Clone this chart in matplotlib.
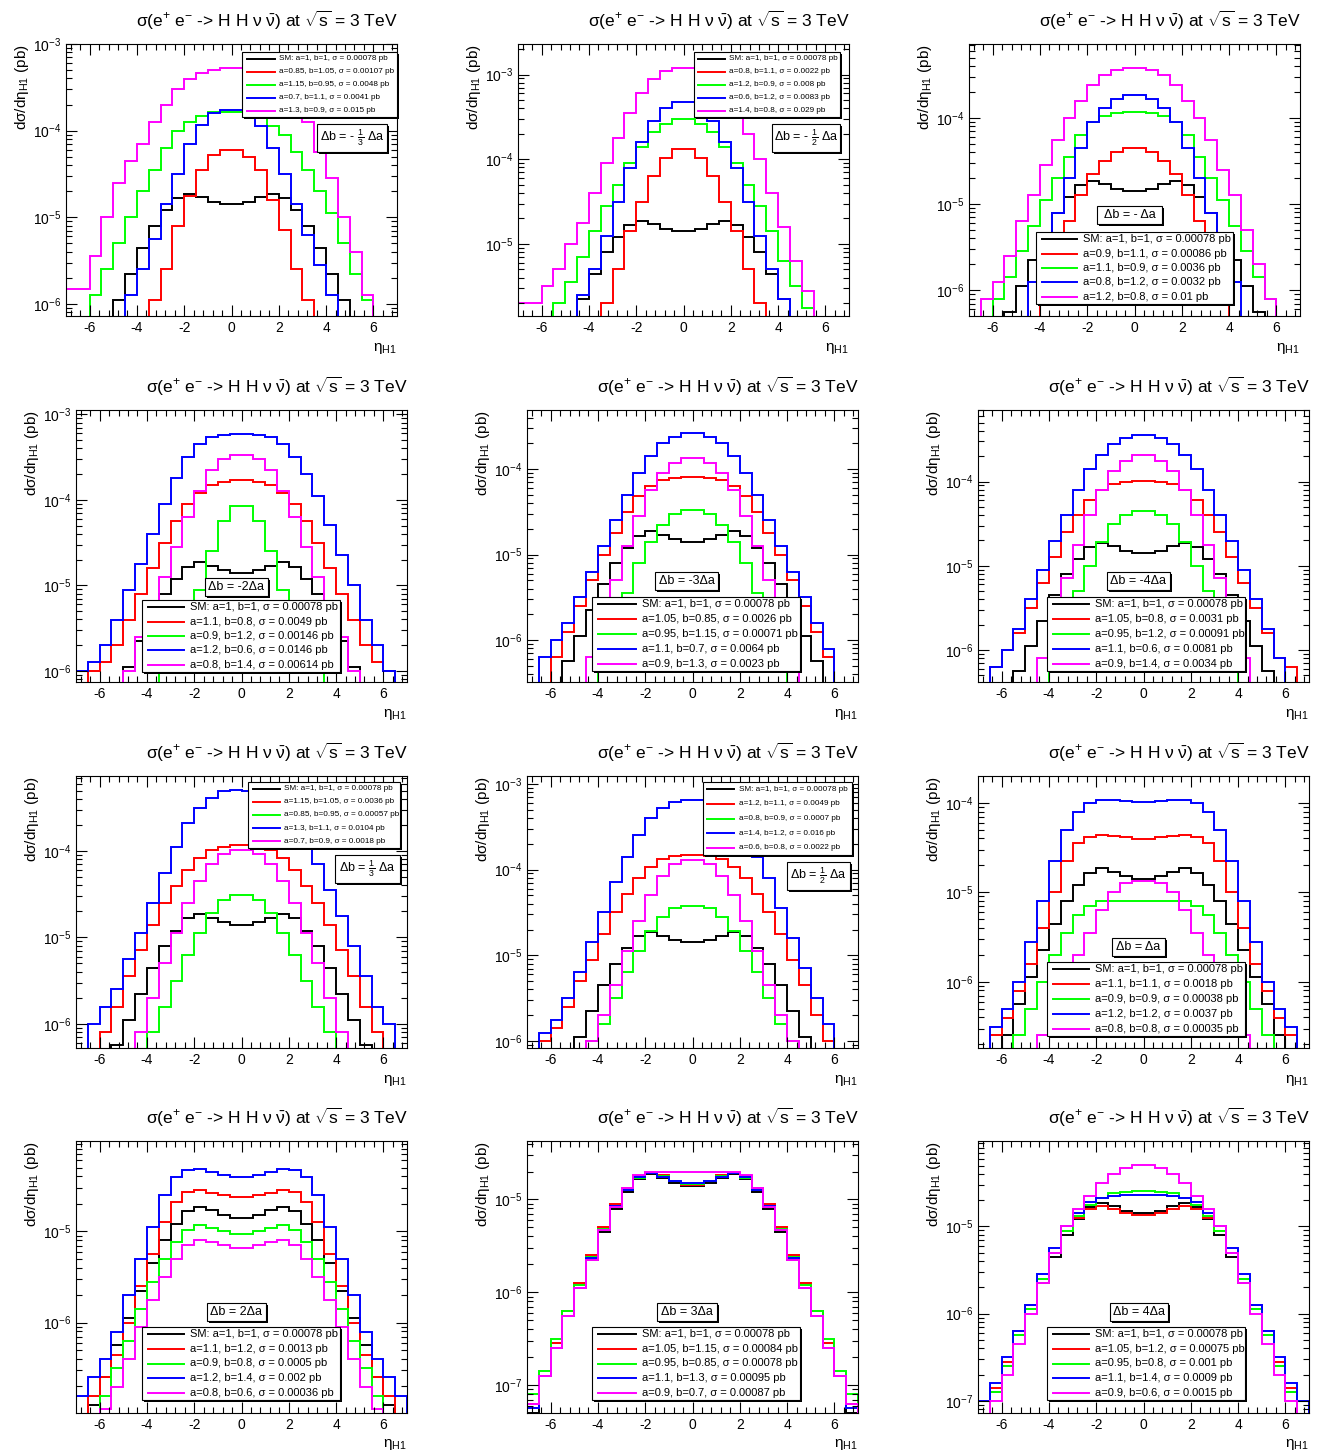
import numpy as np
import matplotlib
matplotlib.use("Agg")
import matplotlib.pyplot as plt
from matplotlib.patches import Rectangle
from matplotlib.lines import Line2D
from matplotlib.ticker import LogLocator, MultipleLocator, NullFormatter

W, H = 1317, 1454
N = None

plt.rcParams['font.family'] = ['Liberation Sans', 'DejaVu Sans']
plt.rcParams['mathtext.fontset'] = 'custom'
plt.rcParams['mathtext.rm'] = 'Liberation Sans'
plt.rcParams['mathtext.it'] = 'Liberation Sans:italic'
plt.rcParams['mathtext.bf'] = 'Liberation Sans:bold'
plt.rcParams['axes.unicode_minus'] = False

# ---- data: log10(dsigma/deta) in 28 bins of 0.5 from -7 to 7 (None = empty bin) ----
eta_edges = np.linspace(-7, 7, 29)

sm = [-7.3, -6.9, -6.6, -6.25, -5.95, -5.65, -5.35, -5.1, -4.92, -4.78, -4.73, -4.77, -4.82, -4.85,
      -4.85, -4.82, -4.77, -4.73, -4.78, -4.92, -5.1, -5.35, -5.65, -5.95, -6.25, -6.6, -6.9, -7.3]

p1_red = [N] * 7 + [-5.95, -5.6, -5.1, -4.75, -4.45, -4.28, -4.22,
                    -4.22, -4.3, -4.45, -4.8, -5.15, -5.6, -5.95] + [N] * 7
p1_green = [N, N, -5.9, -5.6, -5.3, -5.0, -4.7, -4.45, -4.2, -4.0, -3.9, -3.83, -3.79, -3.78,
            -3.78, -3.8, -3.85, -3.95, -4.05, -4.25, -4.45, -4.7, -4.95, -5.3, -5.65, -5.95, N, N]
p1_blue = [N] * 5 + [-5.9, -5.6, -5.25, -4.85, -4.5, -4.15, -3.93, -3.8, -3.76,
                     -3.76, -3.8, -3.95, -4.2, -4.5, -4.85, -5.2, -5.55, -5.9] + [N] * 5
p1_mag = [-5.83, -5.83, -5.45, -5.0, -4.6, -4.35, -4.15, -3.9, -3.7, -3.52, -3.4, -3.34, -3.3, -3.28,
          -3.28, -3.3, -3.33, -3.4, -3.5, -3.7, -3.9, -4.25, -4.55, -5.0, -5.4, -5.9, N, N]

p2_red = [N] * 7 + [-5.7, -5.3, -4.85, -4.5, -4.2, -3.98, -3.88,
                    -3.88, -3.98, -4.2, -4.5, -4.85, -5.3, -5.7] + [N] * 7
p2_green = [N, N, N, -5.7, -5.45, -5.15, -4.85, -4.55, -4.3, -4.05, -3.85, -3.68, -3.58, -3.53,
            -3.53, -3.58, -3.68, -3.85, -4.05, -4.3, -4.55, -4.85, -5.2, -5.5, -5.75, N, N, N]
p2_blue = [N] * 5 + [-5.6, -5.3, -4.9, -4.5, -4.1, -3.8, -3.55, -3.4, -3.32,
                     -3.32, -3.4, -3.55, -3.8, -4.1, -4.5, -4.9, -5.3, -5.65] + [N] * 5
p2_mag = [-5.7, -5.7, -5.5, -5.3, -5.0, -4.75, -4.4, -4.05, -3.75, -3.45, -3.22, -3.05, -2.96, -2.92,
          -2.92, -2.96, -3.05, -3.2, -3.4, -3.7, -4.0, -4.4, -4.8, -5.2, -5.55, N, N, N]

p3_red = [N] * 6 + [-6.0, -5.6, -5.2, -4.9, -4.65, -4.5, -4.4, -4.35,
                    -4.35, -4.4, -4.5, -4.65, -4.9, -5.2, -5.6, -6.0] + [N] * 6
p3_green = [N, N, -6.1, -5.85, -5.55, -5.25, -4.95, -4.7, -4.45, -4.2, -4.05, -3.98, -3.94, -3.93,
            -3.93, -3.94, -3.98, -4.05, -4.2, -4.45, -4.7, -4.95, -5.25, -5.55, -5.85, -6.1, N, N]
p3_blue = [N] * 5 + [-5.9, -5.5, -5.1, -4.7, -4.35, -4.05, -3.88, -3.78, -3.73,
                     -3.73, -3.78, -3.88, -4.05, -4.35, -4.7, -5.1, -5.5, -5.9] + [N] * 5
p3_mag = [N, -6.1, -5.9, -5.6, -5.2, -4.9, -4.55, -4.25, -4.0, -3.8, -3.62, -3.5, -3.44, -3.42,
          -3.42, -3.44, -3.5, -3.62, -3.8, -4.0, -4.25, -4.6, -4.9, -5.3, -5.7, -6.1, N, N]

p4_red = [N, -6.0, -5.9, -5.7, -5.4, -5.1, -4.8, -4.5, -4.25, -4.05, -3.92, -3.83, -3.79, -3.77,
          -3.77, -3.79, -3.83, -3.92, -4.05, -4.25, -4.5, -4.8, -5.1, -5.4, -5.7, -5.9, -6.0, N]
p4_green = [N] * 7 + [-6.0, -5.8, -5.4, -5.05, -4.6, -4.25, -4.07,
                      -4.07, -4.25, -4.6, -5.05, -5.4, -5.8, -6.0] + [N] * 7
p4_blue = [-6.0, -5.9, -5.7, -5.4, -5.05, -4.75, -4.4, -4.05, -3.75, -3.5, -3.35, -3.27, -3.24, -3.23,
           -3.23, -3.24, -3.27, -3.35, -3.5, -3.7, -3.95, -4.3, -4.65, -5.0, -5.4, -5.7, -6.0, N]
p4_mag = [N] * 4 + [-6.0, -5.6, -5.2, -4.9, -4.55, -4.2, -3.9, -3.65, -3.52, -3.48,
                    -3.48, -3.52, -3.65, -3.9, -4.2, -4.55, -4.9, -5.2, -5.6, -6.0] + [N] * 4

p5_red = [N, N, -6.2, -5.9, -5.6, -5.3, -5.0, -4.75, -4.5, -4.32, -4.2, -4.13, -4.1, -4.09,
          -4.09, -4.1, -4.13, -4.2, -4.32, -4.5, -4.75, -5.0, -5.3, -5.6, -5.9, -6.2, N, N]
p5_green = [N] * 6 + [-6.2, -5.8, -5.45, -5.1, -4.85, -4.65, -4.53, -4.48,
                      -4.48, -4.53, -4.65, -4.85, -5.1, -5.45, -5.8, -6.2] + [N] * 6
p5_blue = [N, -6.2, -6.0, -5.8, -5.5, -5.2, -4.9, -4.6, -4.3, -4.05, -3.85, -3.7, -3.62, -3.58,
           -3.58, -3.62, -3.7, -3.85, -4.05, -4.3, -4.6, -4.9, -5.2, -5.5, -5.8, -6.1, N, N]
p5_mag = [N] * 5 + [-6.2, -5.75, -5.3, -4.9, -4.55, -4.25, -4.05, -3.93, -3.87,
                    -3.87, -3.93, -4.05, -4.25, -4.55, -4.9, -5.3, -5.75, -6.2] + [N] * 5

p6_red = [N, -6.2, -6.0, -5.8, -5.5, -5.2, -4.9, -4.6, -4.4, -4.22, -4.1, -4.03, -4.0, -3.99,
          -3.99, -4.0, -4.03, -4.1, -4.22, -4.4, -4.6, -4.9, -5.2, -5.5, -5.8, -6.1, -6.2, N]
p6_green = [N] * 6 + [-6.1, -5.7, -5.3, -5.0, -4.72, -4.5, -4.4, -4.35,
                      -4.35, -4.4, -4.5, -4.72, -5.0, -5.3, -5.7, -6.1] + [N] * 6
p6_blue = [N, -6.2, -6.0, -5.75, -5.4, -5.05, -4.7, -4.4, -4.1, -3.85, -3.68, -3.55, -3.48, -3.45,
           -3.45, -3.48, -3.55, -3.68, -3.85, -4.1, -4.4, -4.7, -5.05, -5.4, -5.75, -6.1, N, N]
p6_mag = [N] * 5 + [-6.1, -5.6, -5.15, -4.75, -4.4, -4.1, -3.88, -3.75, -3.69,
                    -3.69, -3.75, -3.88, -4.1, -4.4, -4.75, -5.15, -5.6, -6.1] + [N] * 5

p7_red = [N, N, -6.1, -5.8, -5.45, -5.15, -4.85, -4.6, -4.4, -4.22, -4.08, -3.99, -3.95, -3.93,
          -3.93, -3.95, -3.99, -4.08, -4.22, -4.4, -4.6, -4.85, -5.15, -5.45, -5.8, -6.1, N, N]
p7_green = [N] * 6 + [-6.1, -5.8, -5.5, -5.2, -4.95, -4.72, -4.57, -4.51,
                      -4.51, -4.57, -4.72, -4.95, -5.2, -5.5, -5.8, -6.1] + [N] * 6
p7_blue = [N, -6.0, -5.8, -5.6, -5.25, -4.95, -4.6, -4.25, -3.95, -3.68, -3.5, -3.38, -3.3, -3.29,
           -3.3, -3.33, -3.4, -3.52, -3.68, -3.9, -4.15, -4.45, -4.75, -5.1, -5.45, -5.8, -6.0, N]
p7_mag = [N] * 5 + [-6.1, -5.7, -5.3, -4.95, -4.6, -4.35, -4.15, -4.03, -3.99,
                    -3.99, -4.03, -4.15, -4.35, -4.6, -4.95, -5.3, -5.7, -6.1] + [N] * 5

p8_red = [N, -6.0, -5.85, -5.6, -5.3, -5.05, -4.75, -4.5, -4.28, -4.1, -3.97, -3.88, -3.84, -3.83,
          -3.83, -3.84, -3.88, -3.97, -4.1, -4.28, -4.5, -4.75, -5.05, -5.35, -5.7, -6.0, N, N]
p8_green = [N] * 5 + [-6.0, -5.8, -5.5, -5.2, -4.95, -4.72, -4.55, -4.45, -4.42,
                      -4.42, -4.45, -4.55, -4.72, -4.95, -5.2, -5.5, -5.8, -6.0] + [N] * 5
p8_blue = [N, -5.9, -5.75, -5.5, -5.2, -4.85, -4.5, -4.15, -3.85, -3.6, -3.4, -3.28, -3.21, -3.19,
           -3.19, -3.21, -3.28, -3.4, -3.6, -3.85, -4.1, -4.45, -4.8, -5.15, -5.5, -5.8, N, N]
p8_mag = [N] * 5 + [-6.0, -5.7, -5.35, -4.95, -4.6, -4.3, -4.08, -3.94, -3.89,
                    -3.89, -3.94, -4.08, -4.3, -4.6, -4.95, -5.35, -5.7, -6.0] + [N] * 5

p9_red = [N, -6.6, -6.4, -6.1, -5.8, -5.4, -5.0, -4.65, -4.45, -4.38, -4.36, -4.37, -4.38, -4.4,
          -4.4, -4.38, -4.37, -4.36, -4.38, -4.45, -4.65, -5.0, -5.4, -5.8, -6.1, -6.4, -6.6, N]
p9_green = [N, N, N, -6.6, -6.3, -6.0, -5.7, -5.45, -5.25, -5.15, -5.1, -5.1, -5.1, -5.1,
            -5.1, -5.1, -5.1, -5.1, -5.15, -5.25, -5.45, -5.7, -6.0, -6.3, -6.6, N, N, N]
p9_blue = [N, -6.5, -6.3, -6.0, -5.55, -5.1, -4.65, -4.3, -4.1, -4.0, -3.97, -3.97, -3.98, -3.99,
           -3.99, -3.98, -3.97, -3.97, -4.0, -4.1, -4.3, -4.65, -5.1, -5.55, -6.0, -6.3, -6.5, N]
p9_mag = [N] * 5 + [-6.6, -6.3, -6.0, -5.7, -5.45, -5.2, -5.0, -4.9, -4.87,
                    -4.87, -4.9, -5.0, -5.2, -5.45, -5.7, -6.0, -6.3, -6.6] + [N] * 5

p10_red = [N, -6.8, -6.6, -6.35, -6.0, -5.6, -5.25, -4.9, -4.68, -4.57, -4.55, -4.58, -4.6, -4.62,
           -4.62, -4.6, -4.58, -4.55, -4.57, -4.68, -4.9, -5.25, -5.6, -6.0, -6.35, -6.6, -6.8, N]
p10_green = [N, -7.0, -6.8, -6.5, -6.2, -5.85, -5.55, -5.3, -5.12, -4.98, -4.93, -4.96, -5.0, -5.03,
             -5.03, -5.0, -4.96, -4.93, -4.98, -5.12, -5.3, -5.55, -5.85, -6.2, -6.5, -6.8, -7.0, N]
p10_blue = [-6.8, -6.6, -6.4, -6.1, -5.7, -5.3, -4.95, -4.6, -4.4, -4.33, -4.32, -4.35, -4.38, -4.4,
            -4.4, -4.38, -4.35, -4.32, -4.33, -4.4, -4.6, -4.95, -5.3, -5.7, -6.1, -6.4, -6.6, -6.8]
p10_mag = [N, N, -6.95, -6.7, -6.4, -6.05, -5.75, -5.5, -5.3, -5.15, -5.1, -5.12, -5.15, -5.18,
           -5.18, -5.15, -5.12, -5.1, -5.15, -5.3, -5.5, -5.75, -6.05, -6.4, -6.7, -6.95, N, N]

p11_red = [-7.2, -6.9, -6.55, -6.2, -5.9, -5.6, -5.3, -5.05, -4.88, -4.75, -4.71, -4.74, -4.8, -4.84,
           -4.84, -4.8, -4.74, -4.71, -4.75, -4.88, -5.05, -5.3, -5.6, -5.9, -6.2, -6.55, -6.9, -7.2]
p11_green = [-7.1, -6.85, -6.5, -6.2, -5.92, -5.62, -5.32, -5.08, -4.9, -4.77, -4.72, -4.75, -4.8, -4.83,
             -4.83, -4.8, -4.75, -4.72, -4.77, -4.9, -5.08, -5.32, -5.62, -5.92, -6.2, -6.5, -6.85, -7.1]
p11_blue = [-7.25, -6.9, -6.6, -6.25, -5.95, -5.63, -5.33, -5.07, -4.9, -4.76, -4.72, -4.76, -4.8, -4.82,
            -4.82, -4.8, -4.76, -4.72, -4.76, -4.9, -5.07, -5.33, -5.63, -5.95, -6.25, -6.6, -6.9, -7.25]
p11_mag = [-7.2, -6.9, -6.6, -6.25, -5.95, -5.65, -5.33, -5.08, -4.88, -4.74, -4.7, -4.7, -4.7, -4.7,
           -4.7, -4.7, -4.7, -4.7, -4.74, -4.88, -5.08, -5.33, -5.65, -5.95, -6.25, -6.6, -6.9, -7.2]

p12_red = [-7.0, -6.85, -6.55, -6.2, -5.9, -5.6, -5.3, -5.05, -4.9, -4.8, -4.77, -4.8, -4.85, -4.87,
           -4.87, -4.85, -4.8, -4.77, -4.8, -4.9, -5.05, -5.3, -5.6, -5.9, -6.2, -6.55, -6.85, -7.0]
p12_green = [N, -6.9, -6.6, -6.25, -5.95, -5.6, -5.3, -5.05, -4.88, -4.75, -4.67, -4.62, -4.6, -4.59,
             -4.59, -4.6, -4.62, -4.67, -4.75, -4.88, -5.05, -5.3, -5.6, -5.95, -6.25, -6.6, -6.9, N]
p12_blue = [-7.0, -6.8, -6.5, -6.2, -5.9, -5.55, -5.25, -5.0, -4.85, -4.72, -4.67, -4.65, -4.64, -4.64,
            -4.64, -4.64, -4.65, -4.67, -4.72, -4.85, -5.0, -5.25, -5.55, -5.9, -6.2, -6.5, -6.8, -7.0]
p12_mag = [N, -7.0, -6.7, -6.35, -6.0, -5.65, -5.3, -5.0, -4.8, -4.65, -4.5, -4.4, -4.33, -4.3,
           -4.3, -4.33, -4.4, -4.5, -4.65, -4.8, -5.0, -5.3, -5.65, -6.0, -6.35, -6.7, -7.0, N]

series = [
    [p1_red, p1_green, p1_blue, p1_mag], [p2_red, p2_green, p2_blue, p2_mag],
    [p3_red, p3_green, p3_blue, p3_mag], [p4_red, p4_green, p4_blue, p4_mag],
    [p5_red, p5_green, p5_blue, p5_mag], [p6_red, p6_green, p6_blue, p6_mag],
    [p7_red, p7_green, p7_blue, p7_mag], [p8_red, p8_green, p8_blue, p8_mag],
    [p9_red, p9_green, p9_blue, p9_mag], [p10_red, p10_green, p10_blue, p10_mag],
    [p11_red, p11_green, p11_blue, p11_mag], [p12_red, p12_green, p12_blue, p12_mag],
]

# legend labels (red, green, blue, magenta); SM entry is common
sm_label = "SM: a=1, b=1, σ = 0.00078 pb"
labels = [
    ["a=0.85, b=1.05, σ = 0.00107 pb", "a=1.15, b=0.95, σ = 0.0048 pb", "a=0.7, b=1.1, σ = 0.0041 pb", "a=1.3, b=0.9, σ = 0.015 pb"],
    ["a=0.8, b=1.1, σ = 0.0022 pb", "a=1.2, b=0.9, σ = 0.008 pb", "a=0.6, b=1.2, σ = 0.0083 pb", "a=1.4, b=0.8, σ = 0.029 pb"],
    ["a=0.9, b=1.1, σ = 0.00086 pb", "a=1.1, b=0.9, σ = 0.0036 pb", "a=0.8, b=1.2, σ = 0.0032 pb", "a=1.2, b=0.8, σ = 0.01 pb"],
    ["a=1.1, b=0.8, σ = 0.0049 pb", "a=0.9, b=1.2, σ = 0.00146 pb", "a=1.2, b=0.6, σ = 0.0146 pb", "a=0.8, b=1.4, σ = 0.00614 pb"],
    ["a=1.05, b=0.85, σ = 0.0026 pb", "a=0.95, b=1.15, σ = 0.00071 pb", "a=1.1, b=0.7, σ = 0.0064 pb", "a=0.9, b=1.3, σ = 0.0023 pb"],
    ["a=1.05, b=0.8, σ = 0.0031 pb", "a=0.95, b=1.2, σ = 0.00091 pb", "a=1.1, b=0.6, σ = 0.0081 pb", "a=0.9, b=1.4, σ = 0.0034 pb"],
    ["a=1.15, b=1.05, σ = 0.0036 pb", "a=0.85, b=0.95, σ = 0.00057 pb", "a=1.3, b=1.1, σ = 0.0104 pb", "a=0.7, b=0.9, σ = 0.0018 pb"],
    ["a=1.2, b=1.1, σ = 0.0049 pb", "a=0.8, b=0.9, σ = 0.0007 pb", "a=1.4, b=1.2, σ = 0.016 pb", "a=0.6, b=0.8, σ = 0.0022 pb"],
    ["a=1.1, b=1.1, σ = 0.0018 pb", "a=0.9, b=0.9, σ = 0.00038 pb", "a=1.2, b=1.2, σ = 0.0037 pb", "a=0.8, b=0.8, σ = 0.00035 pb"],
    ["a=1.1, b=1.2, σ = 0.0013 pb", "a=0.9, b=0.8, σ = 0.0005 pb", "a=1.2, b=1.4, σ = 0.002 pb", "a=0.8, b=0.6, σ = 0.00036 pb"],
    ["a=1.05, b=1.15, σ = 0.00084 pb", "a=0.95, b=0.85, σ = 0.00078 pb", "a=1.1, b=1.3, σ = 0.00095 pb", "a=0.9, b=0.7, σ = 0.00087 pb"],
    ["a=1.05, b=1.2, σ = 0.00075 pb", "a=0.95, b=0.8, σ = 0.001 pb", "a=1.1, b=1.4, σ = 0.0009 pb", "a=0.9, b=0.6, σ = 0.0015 pb"],
]
delta_labels = [
    r"Δb = - $\frac{1}{3}$ Δa", r"Δb = - $\frac{1}{2}$ Δa", "Δb = - Δa",
    "Δb = -2Δa", "Δb = -3Δa", "Δb = -4Δa",
    r"Δb = $\frac{1}{3}$ Δa", r"Δb = $\frac{1}{2}$ Δa", "Δb = Δa",
    "Δb = 2Δa", "Δb = 3Δa", "Δb = 4Δa",
]
# log10 y ranges
ylims = [(-6.14, -3.0), (-5.85, -2.64), (-6.30, -3.14),
         (-6.13, -2.95), (-6.49, -3.31), (-6.38, -3.15),
         (-6.28, -3.13), (-6.08, -2.91), (-6.74, -3.70),
         (-6.99, -4.01), (-7.30, -4.37), (-7.14, -4.02)]

# ---- layout (pixels) ----
col_left = [[66, 518, 969], [76, 527, 978], [76, 527, 978], [76, 527, 978]]
row_top = [44, 410, 776, 1141]
ax_w, ax_h = 331, 272
leg_boxes = [(242, 52, 397, 117), (694, 52, 840, 117), (1036, 232, 1233, 304),
             (142, 600, 340, 672), (592, 597, 800, 671), (1047, 597, 1245, 671),
             (248, 782, 400, 848), (703, 782, 852, 855), (1047, 962, 1245, 1036),
             (142, 1327, 340, 1400), (592, 1327, 800, 1400), (1047, 1327, 1245, 1400)]
leg_fs = [5.9, 5.9, 8, 8, 8, 8, 5.9, 5.9, 8, 8, 8, 8]
delta_boxes = [(317, 124, 387, 152), (772, 124, 840, 152), (1097, 206, 1162, 224),
               (205, 578, 268, 596), (655, 572, 718, 590), (1107, 572, 1170, 590),
               (335, 855, 400, 883), (787, 862, 850, 890), (1112, 938, 1165, 956),
               (207, 1303, 266, 1321), (657, 1303, 717, 1321), (1110, 1303, 1168, 1321)]

colors = ["black", "#ff0000", "#00ff00", "#0000ff", "#ff00ff"]
title = r"σ(e$^{+}$ e$^{-}$ -> H H ν $\bar{\mathrm{\nu}}$) at $\sqrt{\mathrm{s}}$ = 3 TeV"


def fx(x):
    return x / W


def fy(y):
    return 1 - y / H


def to_vals(logs):
    return np.array([10.0 ** v if v is not None else 1e-12 for v in logs])


def boxed(fig, box, shadow=2):
    x0, y0, x1, y1 = box
    fig.add_artist(Rectangle((fx(x0 + shadow), fy(y1 + shadow)), (x1 - x0) / W, (y1 - y0) / H,
                             transform=fig.transFigure, facecolor="black", edgecolor="none", zorder=4))
    fig.add_artist(Rectangle((fx(x0), fy(y1)), (x1 - x0) / W, (y1 - y0) / H,
                             transform=fig.transFigure, facecolor="white", edgecolor="black",
                             lw=0.8, zorder=4.5))


fig = plt.figure(figsize=(W / 100, H / 100), dpi=100)

for i in range(12):
    r, c = divmod(i, 3)
    left, top = col_left[r][c], row_top[r]
    ax = fig.add_axes([fx(left), fy(top + ax_h), ax_w / W, ax_h / H])
    ax.set_yscale("log")
    curves = [sm] + series[i]
    for vals, col in zip(curves, colors):
        ax.stairs(to_vals(vals), eta_edges, baseline=1e-12, color=col, lw=1.4)
    ax.set_xlim(-7, 7)
    ax.set_ylim(10 ** ylims[i][0], 10 ** ylims[i][1])
    ax.xaxis.set_major_locator(MultipleLocator(2))
    ax.xaxis.set_minor_locator(MultipleLocator(0.4))
    ax.yaxis.set_major_locator(LogLocator(base=10))
    ax.yaxis.set_minor_locator(LogLocator(base=10, subs=np.arange(2, 10)))
    ax.yaxis.set_minor_formatter(NullFormatter())
    ax.tick_params(which="both", direction="in", top=True, right=True, labelsize=10, width=0.8)
    ax.tick_params(which="major", length=8)
    ax.tick_params(which="minor", length=4)
    for s in ax.spines.values():
        s.set_linewidth(0.8)

    # title, axis titles
    fig.text(fx(left + 201), fy(top - 24), title, ha="center", va="center", fontsize=12.5)
    fig.text(fx(left - 44), fy(top), r"dσ/dη$_{\mathrm{H1}}$ (pb)", rotation=90,
             ha="center", va="top", fontsize=11)
    fig.text(fx(left + ax_w), fy(top + ax_h + 32), r"η$_{\mathrm{H1}}$", ha="right",
             va="center", fontsize=11)

    # legend
    box = leg_boxes[i]
    boxed(fig, box)
    x0, y0, x1, y1 = box
    bw, bh = x1 - x0, (y1 - y0) / 5
    for k, (lab, col) in enumerate(zip([sm_label] + labels[i], colors)):
        yc = y0 + (k + 0.5) * bh
        fig.add_artist(Line2D([fx(x0 + 0.03 * bw), fx(x0 + 0.21 * bw)], [fy(yc), fy(yc)],
                              transform=fig.transFigure, color=col, lw=1.4, zorder=5))
        fig.text(fx(x0 + 0.24 * bw), fy(yc), lab, ha="left", va="center",
                 fontsize=leg_fs[i], zorder=5)

    # delta-b box
    dbox = delta_boxes[i]
    boxed(fig, dbox)
    fig.text(fx((dbox[0] + dbox[2]) / 2), fy((dbox[1] + dbox[3]) / 2), delta_labels[i],
             ha="center", va="center", fontsize=9, zorder=5)

fig.savefig("out.png", dpi=100)
